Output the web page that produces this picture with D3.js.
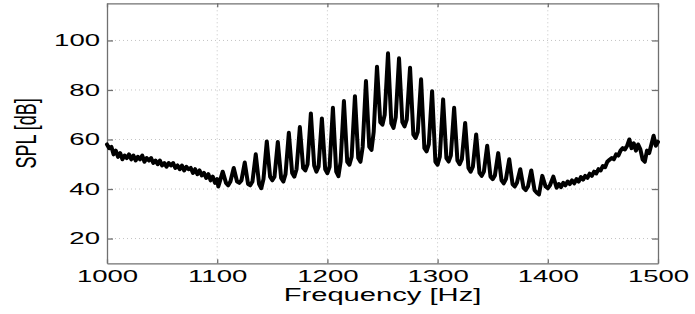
<!DOCTYPE html>
<html>
<head>
<meta charset="utf-8">
<script src="https://cdn.jsdelivr.net/npm/d3@7"></script>
<style>
  body { margin: 0; background: #fff; }
  svg { display: block; }
  .grid line { stroke: #c4c4c4; stroke-width: 1; stroke-dasharray: 1, 3; }
  .axis path, .axis line { stroke: #707070; stroke-width: 1.3; }
  .axis text { font-family: "Liberation Sans", Arial, sans-serif; font-size: 17px; fill: #000; }
  .axis-label { font-family: "Liberation Sans", Arial, sans-serif; fill: #000; }
  .trend { fill: none; stroke: #000; stroke-width: 4; stroke-linejoin: round; stroke-linecap: round; }
</style>
</head>
<body>
<div id="chart"></div>
<script>
// sound pressure level spectrum
const freqHz = [
  1000, 1002, 1004, 1006, 1008, 1010, 1012, 1014, 1016, 1018, 1020, 1022, 1024, 1026, 1028, 1030,
  1032, 1034, 1036, 1038, 1040, 1042, 1044, 1046, 1048, 1050, 1052, 1054, 1056, 1058, 1060, 1062,
  1064, 1066, 1068, 1070, 1072, 1074, 1076, 1078, 1080, 1082, 1084, 1086, 1088, 1090, 1092, 1094,
  1096, 1098, 1100, 1101,
  1102, 1105, 1108, 1110, 1112, 1115, 1118, 1120, 1122, 1125, 1128, 1130,
  1132, 1135, 1138, 1140, 1142, 1145, 1148, 1150, 1152, 1155, 1158, 1160,
  1162, 1165, 1168, 1170, 1172, 1175, 1178, 1180, 1182, 1185, 1188, 1190,
  1192, 1195, 1198, 1200, 1202, 1205, 1208, 1210, 1212, 1215, 1218, 1220,
  1222, 1225, 1228, 1230, 1232, 1235, 1238, 1240, 1242, 1245, 1248, 1250,
  1252, 1255, 1258, 1260, 1262, 1265, 1268, 1270, 1272, 1275, 1278, 1280,
  1282, 1285, 1288, 1290, 1292, 1295, 1298, 1300, 1302, 1305, 1308, 1310,
  1312, 1315, 1318, 1320, 1322, 1325, 1328, 1330, 1332, 1335, 1338, 1340,
  1342, 1345, 1348, 1350, 1352, 1355, 1358, 1360, 1362, 1365, 1368, 1370,
  1372, 1375, 1378, 1380, 1382, 1385, 1388, 1390, 1392, 1395, 1398, 1400,
  1402, 1405,
  1408, 1410, 1412, 1414, 1416, 1418, 1420, 1422, 1424, 1426, 1428, 1430, 1432, 1434, 1436, 1438,
  1440, 1442, 1444, 1446, 1448, 1450, 1452, 1454, 1456, 1458, 1460, 1462, 1464, 1466, 1468, 1470,
  1472, 1474, 1476, 1478, 1480, 1482, 1484, 1486, 1488, 1490, 1492, 1494, 1496, 1498, 1500
];
const splDb = [
  58, 56.5, 57, 54, 55.5, 53, 54.5, 52, 53.5, 52.5, 54, 52, 53.5, 51.5, 53, 52,
  53.5, 51, 52.5, 51.5, 52.5, 50.5, 51.5, 50, 51.5, 49.5, 50.5, 49, 50.5, 49.5, 50.5, 48.5,
  49.5, 48, 49.5, 47.5, 49, 48, 48.5, 46.5, 48, 46, 47.5, 45.5, 46.5, 44.5, 46, 43.5,
  45, 42.5, 44, 41,
  42.5, 47, 42.5, 41.5, 43, 48.5, 43, 42.5, 43.5, 50.7, 42, 41.5,
  43, 54, 42, 40.3, 44, 59.2, 45, 43.5, 45, 59, 44.5, 43,
  46, 62.7, 46.5, 45, 48, 65, 48.5, 47.5, 50, 70.5, 49.5, 47,
  49, 68.5, 48, 46.4, 49, 72.8, 47, 45.2, 51, 75.5, 51, 49.8,
  53, 77.5, 52.5, 51, 57, 83.6, 57, 55.8, 63, 89.4, 67, 66,
  70, 94.8, 66.5, 64.7, 69, 92.8, 67, 65.3, 68, 89, 62, 60.6,
  63, 84.3, 56.5, 55.2, 58, 79.5, 51, 49.8, 53, 76.2, 52.5, 51.1,
  53.5, 72.8, 51.5, 50, 52, 66.7, 48.5, 47, 49, 62, 46.5, 45.3,
  47, 57.5, 45, 44, 45.5, 54.5, 43.5, 42.3, 44, 52, 42, 41,
  42.5, 48, 40.5, 39.6, 41, 47.5, 39.5, 38.5, 37.8, 45.3, 41, 40.3,
  41.5, 45,
  40.5, 42, 40.8, 42.5, 41.5, 43, 42, 43.5, 42.3, 44, 43, 44.8, 43.8, 45.3, 44.5, 46.2,
  45.3, 47, 46.3, 48, 47.5, 49.3, 48.8, 51, 51.8, 52.5, 52, 54, 53.5, 55.5, 56.5, 56,
  57.5, 60, 56.5, 58.5, 55.5, 58, 56, 52, 51, 55.5, 54.5, 58, 61.5, 57.5, 59
];
const xTicks = [1000, 1100, 1200, 1300, 1400, 1500];
const yTicks = [20, 40, 60, 80, 100];
const xLabel = "Frequency [Hz]";
const yLabel = "SPL [dB]";

const width = 695,
  height = 314,
  margin = { top: 3.3, bottom: 50.7, left: 107, right: 37 },
  stretch = 1.62; // the figure is squashed wide, text too

const data = freqHz.map((f, i) => ({ f: f, spl: splDb[i] }));

const xScale = d3.scaleLinear()
  .domain([1000, 1500])
  .range([margin.left, width - margin.right]);

const yScale = d3.scaleLinear()
  .domain([10, 115])
  .range([height - margin.bottom, margin.top]);

const svg = d3.select("#chart")
  .append("svg")
  .attr("width", width)
  .attr("height", height);

// dotted grid
const grid = svg.append("g").attr("class", "grid");
grid.selectAll("line.h")
  .data(yTicks)
  .join("line")
  .attr("class", "h")
  .attr("x1", xScale.range()[0])
  .attr("x2", xScale.range()[1])
  .attr("y1", d => yScale(d))
  .attr("y2", d => yScale(d));
grid.selectAll("line.v")
  .data(xTicks.slice(1, -1))
  .join("line")
  .attr("class", "v")
  .attr("y1", yScale.range()[0])
  .attr("y2", yScale.range()[1])
  .attr("x1", d => xScale(d))
  .attr("x2", d => xScale(d));

// box axes, ticks pointing inward
const xAxis = d3.axisBottom(xScale).tickValues(xTicks).tickFormat(d3.format("d"))
  .tickSizeInner(-4).tickSizeOuter(0).tickPadding(7);
const yAxis = d3.axisLeft(yScale).tickValues(yTicks).tickFormat(d3.format("d"))
  .tickSizeInner(-6).tickSizeOuter(0).tickPadding(7);

svg.append("g")
  .attr("class", "axis x-axis")
  .attr("transform", `translate(0,${height - margin.bottom})`)
  .call(xAxis)
  .selectAll("text")
  .attr("transform", `scale(${stretch},1)`);

svg.append("g")
  .attr("class", "axis y-axis")
  .attr("transform", `translate(${margin.left},0)`)
  .call(yAxis)
  .selectAll("text")
  .attr("x", -7 / stretch)
  .attr("transform", `scale(${stretch},1)`);

svg.append("g")
  .attr("class", "axis")
  .attr("transform", `translate(0,${margin.top})`)
  .call(d3.axisTop(xScale).tickValues(xTicks).tickSizeInner(-4).tickSizeOuter(0).tickFormat(""));

svg.append("g")
  .attr("class", "axis")
  .attr("transform", `translate(${width - margin.right},0)`)
  .call(d3.axisRight(yScale).tickValues(yTicks).tickSizeInner(-6).tickSizeOuter(0).tickFormat(""));

// the spectrum
const lineFunc = d3.line()
  .x(d => xScale(d.f))
  .y(d => yScale(d.spl))
  .curve(d3.curveLinear);

svg.append("path")
  .datum(data)
  .attr("class", "trend")
  .attr("d", lineFunc);

// labels
svg.append("text")
  .attr("class", "axis-label")
  .attr("transform", `translate(${(xScale.range()[0] + xScale.range()[1]) / 2},301) scale(${stretch},1)`)
  .attr("text-anchor", "middle")
  .attr("font-size", "18px")
  .text(xLabel);

svg.append("text")
  .attr("class", "axis-label")
  .attr("transform", `translate(36,${(yScale.range()[0] + yScale.range()[1]) / 2}) scale(${stretch},1) rotate(-90)`)
  .attr("text-anchor", "middle")
  .attr("font-size", "18px")
  .text(yLabel);
</script>
</body>
</html>
